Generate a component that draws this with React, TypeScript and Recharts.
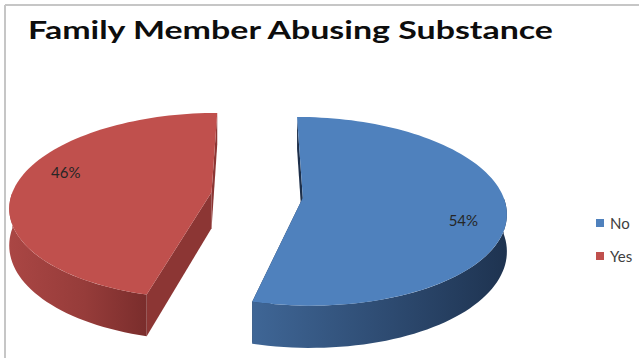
import React from 'react';
import { PieChart, Pie, Legend } from 'recharts';

// chart values
const categories = ['No', 'Yes'];
const shares = [54, 46];
const topColors = ['#4F81BD', '#C0504D'];
const wallStops = [
  ['#3f6696', '#2d4a70', '#1e3350'],
  ['#aa4644', '#963c3a', '#7a2d2c'],
];
const edgeColors = ['#1d2f4a', '#8c3634'];

const data = categories.map((name, i) => ({ name, value: shares[i] }));

// 3d look: tilt of the disc, perspective, explosion and depth of the slices
const TILT = 0.458;
const PERSP = 0.144;
const EXPLODE = 0.23;
const DEPTH = 36;
const RAD = Math.PI / 180;

const toPath = (pts: number[][]) =>
  pts.map((p, i) => `${i ? 'L' : 'M'}${p[0].toFixed(2)},${p[1].toFixed(2)}`).join(' ') + ' Z';

const renderSolid = (props: any) => {
  const { cx, cy, outerRadius: R, startAngle, endAngle, index, percent } = props;
  const mid = (startAngle + endAngle) / 2;
  const ex = EXPLODE * Math.cos(mid * RAD);
  const ez = EXPLODE * Math.sin(mid * RAD);

  const proj = (X: number, Z: number, down: number) => {
    const w = 1 + Z * PERSP;
    return [cx + (X * R) / w, cy - (Z * R * TILT) / w + (down * DEPTH) / w];
  };
  const rim = (a: number, down: number) => proj(ex + Math.cos(a * RAD), ez + Math.sin(a * RAD), down);
  const centre = (down: number) => proj(ex, ez, down);
  const arc = (a0: number, a1: number, down: number) => {
    const n = Math.max(2, Math.ceil(Math.abs(a1 - a0) / 2));
    const pts: number[][] = [];
    for (let i = 0; i <= n; i++) pts.push(rim(a0 + ((a1 - a0) * i) / n, down));
    return pts;
  };

  const radialWall = (a: number) => toPath([centre(0), rim(a, 0), rim(a, 1), centre(1)]);

  const lo = Math.max(Math.min(startAngle, endAngle), -180);
  const hi = Math.min(Math.max(startAngle, endAngle), 0);
  const outerWall = lo < hi ? toPath([...arc(lo, hi, 0), ...arc(lo, hi, 1).reverse()]) : null;

  const top = toPath([centre(0), ...arc(startAngle, endAngle, 0)]);

  // label sits a little clockwise of the mid angle, as Excel does here
  const la = (mid - 10) * RAD;
  const lp = proj(ex + 0.8 * Math.cos(la), ez + 0.8 * Math.sin(la), 0);
  const gid = `wall-grad-${index}`;

  return (
    <g key={`solid-${index}`}>
      <defs>
        <linearGradient id={gid} x1="0" y1="0" x2="1" y2="0">
          <stop offset="0%" stopColor={wallStops[index][0]} />
          <stop offset="55%" stopColor={wallStops[index][1]} />
          <stop offset="100%" stopColor={wallStops[index][2]} />
        </linearGradient>
      </defs>
      <path d={radialWall(startAngle)} fill={edgeColors[index]} />
      <path d={radialWall(endAngle)} fill={edgeColors[index]} />
      {outerWall && <path d={outerWall} fill={`url(#${gid})`} />}
      <path d={top} fill={topColors[index]} />
      <text
        x={lp[0]}
        y={lp[1]}
        textAnchor="middle"
        dominantBaseline="central"
        fontFamily="Lato, 'Open Sans', sans-serif"
        fontSize={15}
        fill="#262626"
      >
        {`${Math.round(percent * 100)}%`}
      </text>
    </g>
  );
};

const LegendBox = () => (
  <div style={{ fontFamily: "Lato, 'Open Sans', sans-serif", fontSize: 15, color: '#404040' }}>
    {categories.map((c, i) => (
      <div key={c} style={{ display: 'flex', alignItems: 'center', height: 33 }}>
        <span style={{ width: 8, height: 8, background: topColors[i], marginRight: 6, display: 'inline-block' }} />
        <span>{c}</span>
      </div>
    ))}
  </div>
);

export default function App() {
  return (
    <div style={{ position: 'absolute', left: 0, top: 0, width: 639, height: 358, background: '#fff', overflow: 'hidden' }}>
      <svg width={639} height={358} style={{ position: 'absolute', left: 0, top: 0 }}>
        <line x1={5} y1={5} x2={639} y2={5} stroke="#c6c6c6" strokeWidth={2} />
        <line x1={5} y1={5} x2={5} y2={358} stroke="#c6c6c6" strokeWidth={2} />
        <text
          x={28}
          y={39}
          fontFamily="Lato, 'Open Sans', sans-serif"
          fontWeight="bold"
          fontSize={25}
          fill="#0d0d0d"
          textLength={525}
          lengthAdjust="spacingAndGlyphs"
        >
          Family Member Abusing Substance
        </text>
      </svg>
      <div style={{ position: 'absolute', left: 0, top: 0 }}>
        <PieChart width={639} height={358} margin={{ top: 0, right: 0, bottom: 0, left: 0 }}>
          <Pie
            data={data}
            dataKey="value"
            nameKey="name"
            cx={257}
            cy={195}
            outerRadius={200}
            startAngle={90}
            endAngle={-270}
            fill="none"
            stroke="none"
            label={renderSolid}
            labelLine={false}
            isAnimationActive={false}
          />
          <Legend
            layout="vertical"
            align="right"
            verticalAlign="middle"
            content={() => <LegendBox />}
            wrapperStyle={{ position: 'absolute', left: 596, top: 206, width: 45 }}
          />
        </PieChart>
      </div>
    </div>
  );
}
